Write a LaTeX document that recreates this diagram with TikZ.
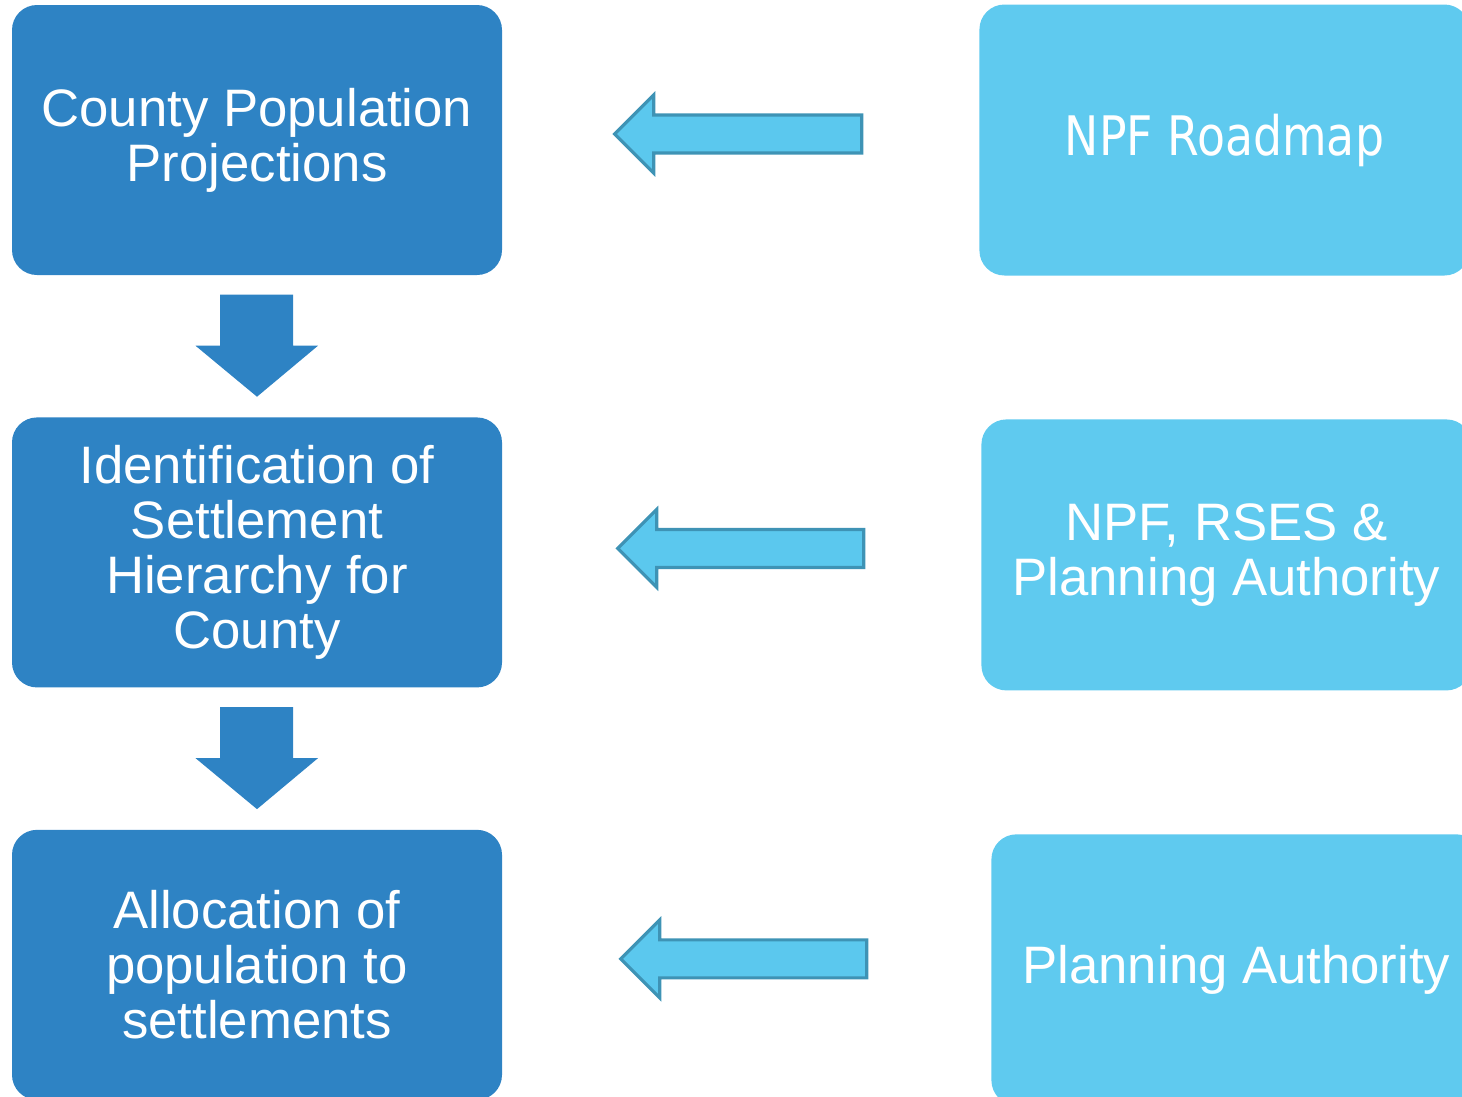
\documentclass[tikz,border=0pt]{standalone}
\usepackage{fontspec}
\setmainfont{Liberation Sans}
\newfontfamily\mapfont[FakeStretch=0.84]{DejaVu Sans}
\usetikzlibrary{positioning,calc}

\definecolor{stepblue}{HTML}{2E83C4}
\definecolor{sourceblue}{HTML}{5FCAEF}
\definecolor{arrowfill}{HTML}{5BC8EE}
\definecolor{arrowline}{HTML}{3E93B5}

\begin{document}
\begin{tikzpicture}
    \tikzset{
      stage node/.style = {rectangle, rounded corners=0.25cm, fill=stepblue, text=white,
        align=center, minimum width=4.9cm, minimum height=2.7cm, inner sep=0pt,
        font=\fontsize{15}{15.6}\selectfont},
      source node/.style = {stage node, fill=sourceblue, minimum height=2.71cm},
      feed arrow/.style = {fill=arrowfill, draw=arrowline, line width=0.9pt}
    }
    \useasboundingbox (0,0) rectangle (14.62,-10.96);
    \clip (0,0) rectangle (14.62,-10.96);

    % the three steps on the left
    \node[stage node] (proj) at (2.57,-1.40) {County Population\\Projections};
    \node[stage node] (hier) [below = 1.41cm of proj] {Identification of\\Settlement\\Hierarchy for\\County};
    \node[stage node] (alloc) [below = 1.41cm of hier] {Allocation of\\population to\\settlements};

    % where each step gets its input
    \node[source node] (road) [right = 4.76cm of proj] {\mapfont\fontsize{15.5}{16}\selectfont NPF Roadmap};
    \node[source node] (rses) [right = 4.78cm of hier, yshift=-0.025cm] {NPF, RSES \&\\Planning Authority};
    \node[source node] (pa) [right = 4.88cm of alloc, yshift=-0.05cm] {Planning Authority};

    % block arrows down the left column
    \foreach \a/\b in {proj/hier, hier/alloc}
      \fill[stepblue] ($(\a.south)+(-0.37,-0.19)$) -- ++(0.73,0) -- ++(0,-0.51) -- ++(0.25,0)
        -- ($(\b.north)+(0,0.20)$) -- ++(-0.615,0.51) -- ++(0.245,0) -- cycle;

    % block arrows from the sources
    \foreach \a/\b/\dx/\dy/\up in {proj/road/1.12/1.17/0.06, hier/rses/1.15/1.17/0.04, alloc/pa/1.18/1.24/0.06} {
      \path ($(\a.east)+(\dx,\up)$) coordinate (tip);
      \draw[feed arrow] (tip) -- ++(0.39,0.39) -- ++(0,-0.20)
        -- ($(tip -| \b.west)+(-\dy,0.19)$) -- ++(0,-0.38)
        -- ($(tip)+(0.39,-0.19)$) -- ++(0,-0.20) -- cycle;
    }
\end{tikzpicture}
\end{document}
